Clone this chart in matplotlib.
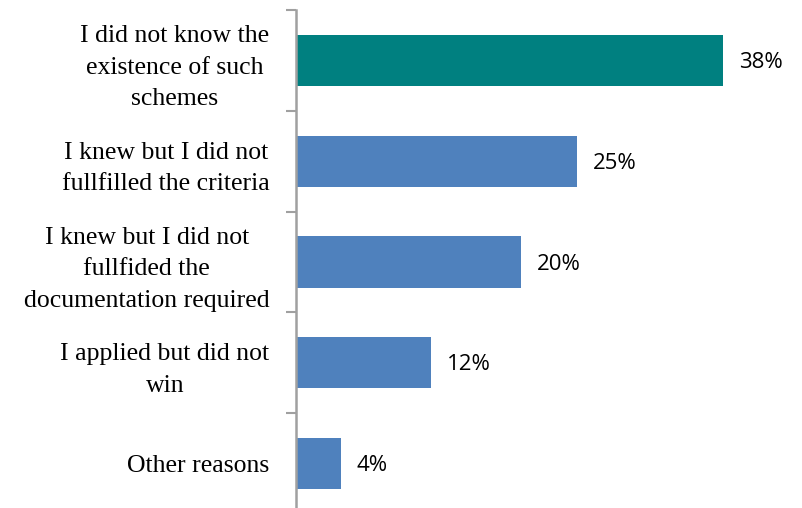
import matplotlib
matplotlib.use("Agg")
import matplotlib.pyplot as plt
from matplotlib.transforms import ScaledTranslation

categories = [
    "I did not know the\nexistence of such\nschemes",
    "I knew but I did not\nfullfilled the criteria",
    "I knew but I did not\nfullfided the\ndocumentation required",
    "I applied but did not\nwin",
    "Other reasons",
]
values = [38, 25, 20, 12, 4]
colors = ["#008080", "#4F81BD", "#4F81BD", "#4F81BD", "#4F81BD"]

fig = plt.figure(figsize=(8.02, 5.08), dpi=100)
W, H = 802, 508
ax = fig.add_axes([296 / W, (H - 514) / H, (802 - 296) / W, 504 / H])

pos = list(range(len(categories)))
ax.barh(pos, values, height=0.506, color=colors, zorder=2)
ax.set_ylim(len(categories) - 0.5, -0.5)
ax.set_xlim(0, 506 / 11.235)

# category separators as ticks on the left spine
ax.set_yticks([p - 0.5 for p in pos] + [len(pos) - 0.5])
ax.set_yticklabels([])
ax.tick_params(axis="y", length=7, width=1.5, color="#A0A0A0", direction="out")
ax.set_yticks(pos, minor=True)
ax.set_yticklabels(categories, minor=True, fontfamily="Liberation Serif",
                   fontsize=18.5, multialignment="center", linespacing=1.55)
ax.tick_params(axis="y", which="minor", length=0, pad=19)
ax.set_xticks([])

for s in ["top", "right", "bottom"]:
    ax.spines[s].set_visible(False)
ax.spines["left"].set_color("#A0A0A0")
ax.spines["left"].set_linewidth(1.8)

off = ScaledTranslation(16 / 100, -2 / 100, fig.dpi_scale_trans)
for p, v in zip(pos, values):
    ax.text(v, p, f"{v}%", ha="left", va="center", fontsize=16,
            fontfamily="Open Sans", color="#000000",
            transform=ax.transData + off)

fig.savefig("out.png", dpi=100)
